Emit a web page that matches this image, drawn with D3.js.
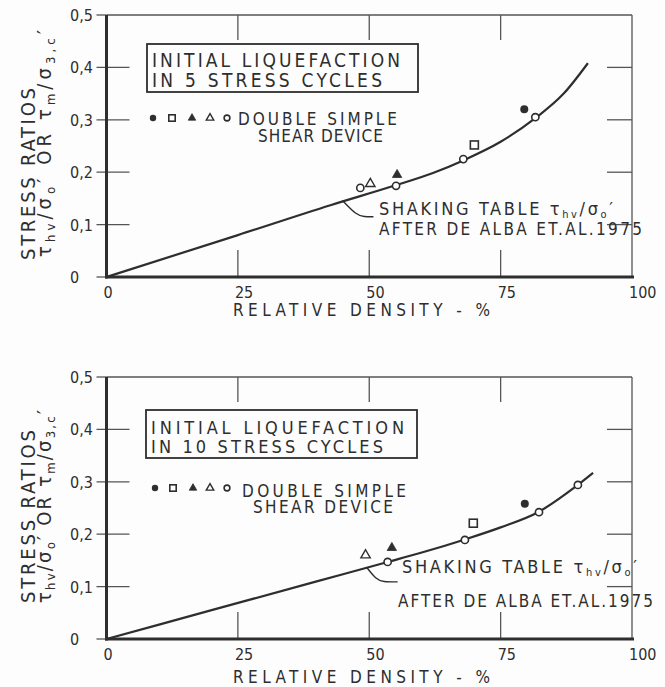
<!DOCTYPE html>
<html>
<head>
<meta charset="utf-8">
<script src="https://cdn.jsdelivr.net/npm/d3@7"></script>
<style>
  body { margin: 0; background: #fdfdfd; }
  svg text { font-family: "DejaVu Sans Condensed", "Liberation Sans Narrow", "DejaVu Sans", sans-serif; fill: #2e2e2e; }
</style>
</head>
<body>
<svg id="chart" width="665" height="687"></svg>
<script>
// axes
const xTicks = [0, 25, 50, 75, 100];
const yTicks = [0, 0.1, 0.2, 0.3, 0.4, 0.5];
const yTickLabels = ["0", "0,1", "0,2", "0,3", "0,4", "0,5"];
const legendOrder = ["filledCircle", "openSquare", "filledTriangle", "openTriangle", "openCircle"];

// initial liquefaction in 5 stress cycles
const c5FilledCircle = [[79.5, 0.32]];
const c5OpenSquare = [[70, 0.252]];
const c5FilledTriangle = [[55.3, 0.195]];
const c5OpenTriangle = [[50.2, 0.178]];
const c5OpenCircle = [[48.3, 0.17], [55.1, 0.174], [67.9, 0.225], [81.6, 0.305]];
const c5ShakingTable = [[0, 0], [25, 0.08], [42.6, 0.137], [55, 0.175], [62, 0.198], [68, 0.223],
  [75, 0.258], [81.6, 0.303], [87, 0.35], [91.6, 0.408]];
const c5Leader = [[44.9, 0.146], [47.6, 0.118], [49, 0.115], [50.8, 0.115]];

// initial liquefaction in 10 stress cycles
const c10FilledCircle = [[79.6, 0.258]];
const c10OpenSquare = [[69.8, 0.221]];
const c10FilledTriangle = [[54.3, 0.174]];
const c10OpenTriangle = [[49.3, 0.16]];
const c10OpenCircle = [[53.5, 0.147], [68.2, 0.189], [82.3, 0.242], [89.7, 0.294]];
const c10ShakingTable = [[0, 0], [20, 0.055], [40, 0.11], [53.5, 0.147], [60, 0.165], [68.2, 0.19],
  [75, 0.213], [82.3, 0.243], [89.7, 0.294], [92.6, 0.317]];
const c10Leader = [[49.5, 0.137], [51.3, 0.114], [52.6, 0.109], [55.4, 0.109]];

const ink = "#2e2e2e";

const panels = [
  {
    top: 15, cycles: "5",
    series: {filledCircle: c5FilledCircle, openSquare: c5OpenSquare, filledTriangle: c5FilledTriangle,
      openTriangle: c5OpenTriangle, openCircle: c5OpenCircle},
    curve: c5ShakingTable, leader: c5Leader,
    box: {x: 147, y: 29, w: 271, h: 48, l1: 52, l2: 72, w1: 248, w2: 230, fs: 19},
    legend: {y: 103, sx: [153, 172, 192, 210, 227], t1x: 238, t1y: 110, t1w: 159, t2x: 258, t2y: 127, t2w: 125},
    shaking: {x1: 379, y1: 200, w1: 234, x2: 379, y2: 220, w2: 263},
    ytitle: {y1: 245, w1: 172, y2: 242, w2: 227},
    xtitleY: 316
  },
  {
    top: 377, cycles: "10",
    series: {filledCircle: c10FilledCircle, openSquare: c10OpenSquare, filledTriangle: c10FilledTriangle,
      openTriangle: c10OpenTriangle, openCircle: c10OpenCircle},
    curve: c10ShakingTable, leader: c10Leader,
    box: {x: 146, y: 33, w: 271, h: 48, l1: 57, l2: 76, w1: 253, w2: 232, fs: 18},
    legend: {y: 111, sx: [155, 173, 193, 210, 227], t1x: 242, t1y: 120, t1w: 164, t2x: 253, t2y: 136, t2w: 140},
    shaking: {x1: 402, y1: 196, w1: 235, x2: 398, y2: 230, w2: 255},
    ytitle: {y1: 226, w1: 173, y2: 226, w2: 193},
    xtitleY: 683
  }
];

const svg = d3.select("#chart");

// text with subscripts: parts are strings or {sub: "..."}
function rich(text, parts, subSize, drop) {
  let shift = 0;
  parts.forEach(pt => {
    const target = typeof pt === "string" ? 0 : drop;
    const t = text.append("tspan").attr("dy", target - shift);
    if (typeof pt === "string") t.text(pt);
    else t.attr("font-size", subSize).text(pt.sub);
    shift = target;
  });
  return text;
}

function mark(g, type, cx, cy, k) {
  if (type === "filledCircle") {
    g.append("circle").attr("cx", cx).attr("cy", cy).attr("r", 4 * k).attr("fill", ink);
  } else if (type === "openCircle") {
    g.append("circle").attr("cx", cx).attr("cy", cy).attr("r", 3.6 * k)
      .attr("fill", "#fff").attr("stroke", ink).attr("stroke-width", 1.6);
  } else if (type === "openSquare") {
    const s = 8 * k;
    g.append("rect").attr("x", cx - s / 2).attr("y", cy - s / 2).attr("width", s).attr("height", s)
      .attr("fill", "#fff").attr("stroke", ink).attr("stroke-width", 1.6);
  } else {
    const filled = type === "filledTriangle";
    g.append("path")
      .attr("transform", `translate(${cx},${cy})`)
      .attr("d", d3.symbol(d3.symbolTriangle, 38 * k * k)())
      .attr("fill", filled ? ink : "#fff")
      .attr("stroke", ink).attr("stroke-width", filled ? 0.8 : 1.4);
  }
}

panels.forEach(p => {
  const x = d3.scaleLinear().domain([0, 100]).range([106.5, 632]);
  const y = d3.scaleLinear().domain([0, 0.5]).range([p.top + 262, p.top]);
  const g = svg.append("g");

  // frame: thin top and right, heavy left and bottom
  g.append("line").attr("x1", x(0)).attr("x2", x(100)).attr("y1", y(0.5)).attr("y2", y(0.5))
    .attr("stroke", "#555").attr("stroke-width", 1.3);
  g.append("line").attr("x1", x(100)).attr("x2", x(100)).attr("y1", y(0.5)).attr("y2", y(0))
    .attr("stroke", "#555").attr("stroke-width", 1.3);

  // inner ticks
  const tick = g.append("g").attr("stroke", "#555").attr("stroke-width", 1.3);
  yTicks.forEach(v => {
    const inner = v > 0 && v < 0.5;
    tick.append("line").attr("x1", x(0) - 10).attr("x2", x(0) + (inner ? 23 : 0))
      .attr("y1", y(v)).attr("y2", y(v));
    if (inner) tick.append("line").attr("x1", x(100) - 25).attr("x2", x(100))
      .attr("y1", y(v)).attr("y2", y(v));
  });
  xTicks.filter(v => v > 0 && v < 100).forEach(v => {
    tick.append("line").attr("x1", x(v)).attr("x2", x(v)).attr("y1", y(0.5)).attr("y2", y(0.5) + 25);
    tick.append("line").attr("x1", x(v)).attr("x2", x(v)).attr("y1", y(0)).attr("y2", y(0) - 27);
  });

  g.append("line").attr("x1", x(0)).attr("x2", x(0)).attr("y1", y(0.5)).attr("y2", y(0) + 1.5)
    .attr("stroke", ink).attr("stroke-width", 3);
  g.append("line").attr("x1", x(0) - 1.5).attr("x2", x(100) + 2).attr("y1", y(0)).attr("y2", y(0))
    .attr("stroke", ink).attr("stroke-width", 3);

  // tick labels
  yTicks.forEach((v, i) => {
    g.append("text").attr("x", 70).attr("y", y(v) + 6).attr("font-size", 16).text(yTickLabels[i]);
  });
  xTicks.forEach(v => {
    g.append("text").attr("x", x(v) - 3).attr("y", y(0) + 21).attr("font-size", 16).text(v);
  });

  // axis titles
  g.append("text").attr("x", 233).attr("y", p.xtitleY).attr("font-size", 17)
    .attr("textLength", 257).attr("lengthAdjust", "spacing").text("RELATIVE DENSITY - %");
  g.append("text").attr("transform", `translate(35,${p.top + p.ytitle.y1}) rotate(-90)`)
    .attr("font-size", 20).attr("textLength", p.ytitle.w1).attr("lengthAdjust", "spacing")
    .text("STRESS RATIOS");
  rich(g.append("text").attr("transform", `translate(51,${p.top + p.ytitle.y2}) rotate(-90)`)
    .attr("font-size", 20).attr("textLength", p.ytitle.w2).attr("lengthAdjust", "spacing"),
    ["τ", {sub: "hv"}, "/σ", {sub: "o"}, "′ OR τ", {sub: "m"}, "/σ", {sub: "3,c"}, "′"], 13, 4);

  // shaking table curve and leader
  const line = d3.line().x(d => x(d[0])).y(d => y(d[1]));
  g.append("path").datum(p.curve).attr("d", line.curve(d3.curveMonotoneX))
    .attr("fill", "none").attr("stroke", ink).attr("stroke-width", 2.2);
  g.append("path").datum(p.leader).attr("d", d3.line().x(d => x(d[0])).y(d => y(d[1])).curve(d3.curveBasis))
    .attr("fill", "none").attr("stroke", ink).attr("stroke-width", 1.4);

  // double simple shear device points
  legendOrder.forEach(type => {
    p.series[type].forEach(d => mark(g, type, x(d[0]), y(d[1]), 1));
  });

  // title box
  const b = p.box;
  g.append("rect").attr("x", b.x).attr("y", p.top + b.y).attr("width", b.w).attr("height", b.h)
    .attr("fill", "none").attr("stroke", ink).attr("stroke-width", 1.8);
  g.append("text").attr("x", b.x + 5).attr("y", p.top + b.l1).attr("font-size", b.fs)
    .attr("textLength", b.w1).attr("lengthAdjust", "spacing").text("INITIAL LIQUEFACTION");
  g.append("text").attr("x", b.x + 5).attr("y", p.top + b.l2).attr("font-size", b.fs)
    .attr("textLength", b.w2).attr("lengthAdjust", "spacing").text(`IN ${p.cycles} STRESS CYCLES`);

  // legend
  const L = p.legend;
  legendOrder.forEach((type, i) => mark(g, type, L.sx[i], p.top + L.y, 0.8));
  g.append("text").attr("x", L.t1x).attr("y", p.top + L.t1y).attr("font-size", 17)
    .attr("textLength", L.t1w).attr("lengthAdjust", "spacing").text("DOUBLE SIMPLE");
  g.append("text").attr("x", L.t2x).attr("y", p.top + L.t2y).attr("font-size", 17)
    .attr("textLength", L.t2w).attr("lengthAdjust", "spacing").text("SHEAR DEVICE");

  // shaking table label
  const s = p.shaking;
  rich(g.append("text").attr("x", s.x1).attr("y", p.top + s.y1).attr("font-size", 18)
    .attr("textLength", s.w1).attr("lengthAdjust", "spacing"),
    ["SHAKING TABLE τ", {sub: "hv"}, "/σ", {sub: "o"}, "′"], 11, 3);
  g.append("text").attr("x", s.x2).attr("y", p.top + s.y2).attr("font-size", 17)
    .attr("textLength", s.w2).attr("lengthAdjust", "spacing").text("AFTER DE ALBA ET.AL.1975");
});
</script>
</body>
</html>
